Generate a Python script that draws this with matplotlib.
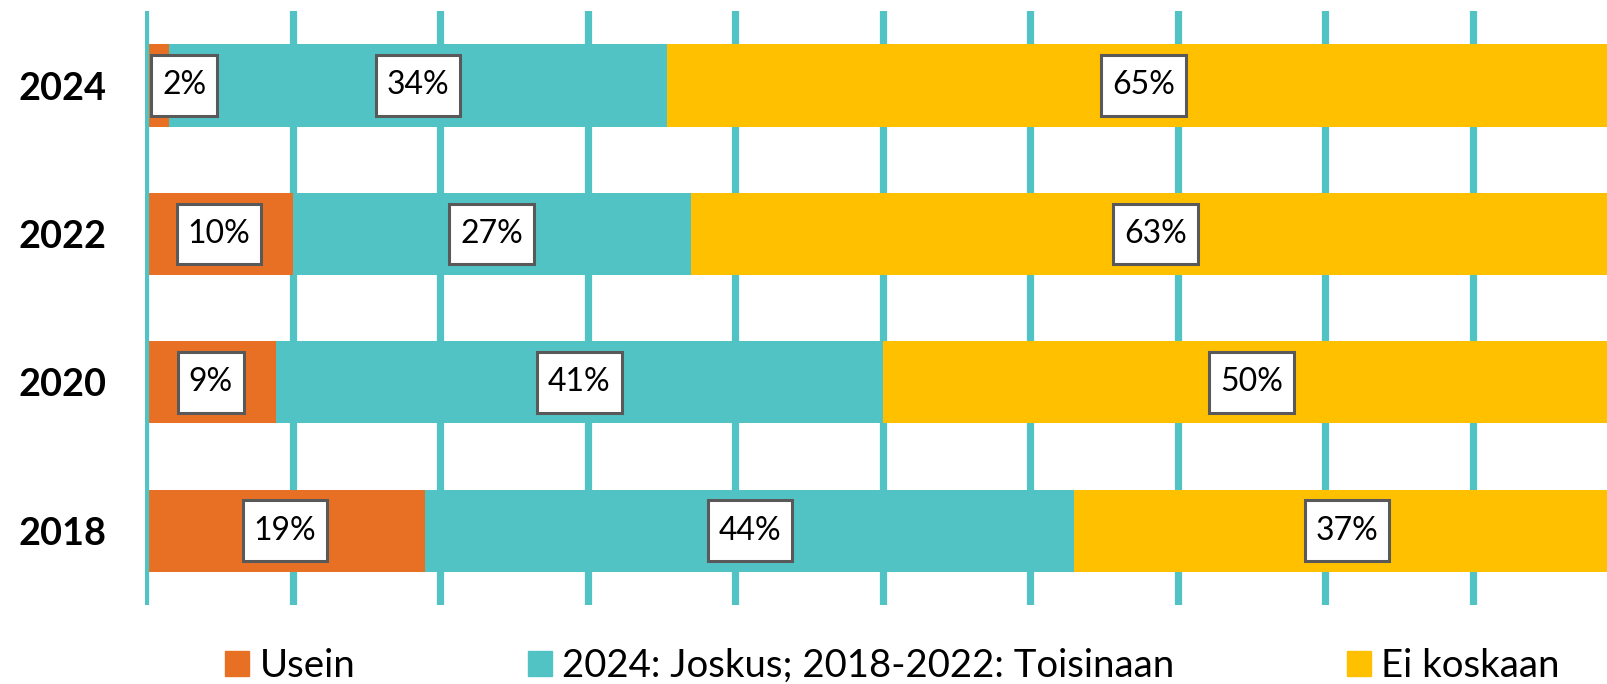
import matplotlib.pyplot as plt
from matplotlib.patches import Patch
from matplotlib.path import Path

# data (top to bottom)
years = ['2024', '2022', '2020', '2018']
usein = [1.6, 10.0, 8.9, 19.0]
joskus = [33.8, 27.0, 41.1, 44.0]
ei_koskaan = [64.6, 63.0, 50.0, 37.0]
series_names = ['Usein', '2024: Joskus; 2018-2022: Toisinaan', 'Ei koskaan']
colors = ['#E87025', '#52C3C5', '#FFC000']

plt.rcParams['font.family'] = ['Lato', 'DejaVu Sans']


def label_box(x0, y0, width, height, mutation_size):
    # square box, more padding top/bottom than left/right
    px = 0.34 * mutation_size
    py = 0.48 * mutation_size
    x0, x1 = x0 - px, x0 + width + px
    y0, y1 = y0 - py, y0 + height + py
    return Path([(x0, y0), (x1, y0), (x1, y1), (x0, y1), (x0, y0)], closed=True)


fig = plt.figure(figsize=(16.08, 6.84), dpi=100)
# axis runs to 100% but the right end falls just outside the picture
ax = fig.add_axes([0.0902, 0.1155, 0.9173, 0.868])

ypos = list(range(len(years)))[::-1]
left = [0.0] * len(years)
for vals, col in zip([usein, joskus, ei_koskaan], colors):
    ax.barh(ypos, vals, left=left, height=0.553, color=col, zorder=2)
    for y, l, v in zip(ypos, left, vals):
        if v < 4:
            x, ha = l + 1.15, 'left'
        else:
            x, ha = l + v / 2, 'center'
        ax.text(x, y, f'{v:.0f}%', ha=ha, va='center', fontsize=23, zorder=4,
                bbox=dict(boxstyle=label_box, fc='white', ec='#595959', lw=2.2))
    left = [a + b for a, b in zip(left, vals)]

for gx in range(0, 101, 10):
    ax.axvline(gx, color='#52C3C5', lw=5.2, zorder=3 if gx == 0 else 0)

ax.set_xlim(0, 100)
ax.set_ylim(-0.5, 3.5)
ax.set_yticks(ypos)
ax.set_yticklabels(years, fontsize=27.3, fontweight='bold')
ax.set_xticks([])
ax.tick_params(axis='y', length=0, pad=28)
for s in ax.spines.values():
    s.set_visible(False)

handles = [Patch(color=c) for c in colors]
fig.legend(handles, series_names, loc='center', bbox_to_anchor=(0.555, 0.026), ncol=3,
           frameon=False, fontsize=27.6, columnspacing=4.5, handlelength=0.63,
           handleheight=0.63, handletextpad=0.27)

fig.savefig('out.png', dpi=100)
